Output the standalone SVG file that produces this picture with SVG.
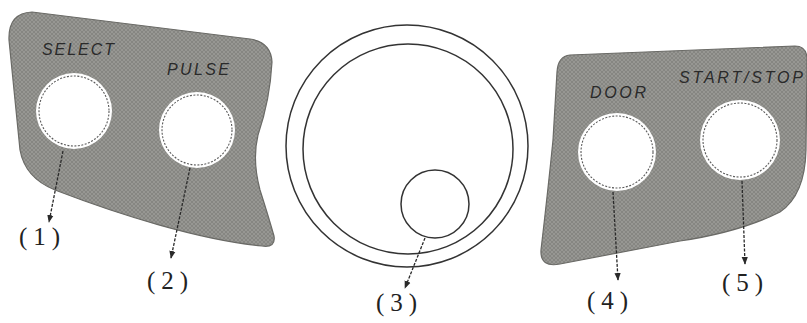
<svg xmlns="http://www.w3.org/2000/svg" width="807" height="323" viewBox="0 0 807 323">
<style>
.panel{fill:url(#hatch);stroke:#6a6a66;stroke-width:1.2}
.btn{fill:#ffffff;stroke:none}
.btnrim{fill:none;stroke:#5a5a5a;stroke-width:1.1;stroke-dasharray:2 1.5}
.lbl{font-family:"Liberation Sans",Arial,sans-serif;font-style:italic;font-size:16px;fill:#2a2a2a}
.num{font-family:"Liberation Serif","Times New Roman",serif;font-size:25px;fill:#222;letter-spacing:6px}
.ring{fill:none;stroke:#333;stroke-width:1.5}
.lead{fill:none;stroke:#2a2a2a;stroke-width:1.3;stroke-dasharray:3 1.5}
</style>
<defs>
<pattern id="hatch" width="4" height="4" patternUnits="userSpaceOnUse">
<rect width="4" height="4" fill="#868682"/>
<path d="M0 4 L4 0 M0 0 L4 4" stroke="#a2a29e" stroke-width="0.6"/>
</pattern>
<marker id="arr" viewBox="0 0 10 10" refX="9" refY="5" markerWidth="6" markerHeight="6" orient="auto-start-reverse">
<path d="M0 1 L10 5 L0 9 Z" fill="#2a2a2a"/>
</marker>
</defs>
<rect width="807" height="323" fill="#ffffff"/>
<g id="left-panel">
<path class="panel" d="M32 12 L250 39 Q271 42 272 62 Q270 100 258 135 Q252 160 260 190 Q268 215 274 236 Q276 248 262 246 C200 240 120 215 55 190 Q25 178 20 150 L9 40 Q8 13 32 12 Z"/>
</g>
<g id="right-panel">
<path class="panel" d="M570 55 L795 46 Q807 46 807 60 L806 150 Q805 195 780 212 Q740 232 680 241 L560 264 Q540 268 541 250 Q548 190 553 140 L557 72 Q558 56 570 55 Z"/>
</g>
<g id="btn-select">
<circle class="btn" cx="74" cy="111" r="38"/>
<circle class="btnrim" cx="74" cy="111" r="35"/>
<text class="lbl" x="78" y="55" text-anchor="middle" textLength="72">SELECT</text>
</g>
<g id="btn-pulse">
<circle class="btn" cx="197" cy="130" r="38"/>
<circle class="btnrim" cx="197" cy="130" r="35"/>
<text class="lbl" x="198" y="75" text-anchor="middle" textLength="62">PULSE</text>
</g>
<g id="knob">
<circle class="ring" cx="407" cy="146" r="121"/>
<circle class="ring" cx="408" cy="149" r="105"/>
<circle class="ring" cx="435" cy="204" r="34"/>
</g>
<g id="btn-door">
<circle class="btn" cx="617" cy="152" r="39"/>
<circle class="btnrim" cx="617" cy="152" r="36"/>
<text class="lbl" x="618" y="98" text-anchor="middle" textLength="56">DOOR</text>
</g>
<g id="btn-startstop">
<circle class="btn" cx="740" cy="140" r="40"/>
<circle class="btnrim" cx="740" cy="140" r="37"/>
<text class="lbl" x="741" y="83" text-anchor="middle" textLength="124">START/STOP</text>
</g>
<g id="connectors">
<path class="lead" d="M63 151 L49 222" marker-end="url(#arr)"/>
<path class="lead" d="M190 168 L171 258" marker-end="url(#arr)"/>
<path class="lead" d="M425 238 L405 288" marker-end="url(#arr)"/>
<path class="lead" d="M613 192 L618 280" marker-end="url(#arr)"/>
<path class="lead" d="M742 181 L745 264" marker-end="url(#arr)"/>
</g>
<g id="labels">
<text class="num" x="19" y="245">(1)</text>
<text class="num" x="147" y="289">(2)</text>
<text class="num" x="376" y="311">(3)</text>
<text class="num" x="587" y="309">(4)</text>
<text class="num" x="722" y="291">(5)</text>
</g>
</svg>
